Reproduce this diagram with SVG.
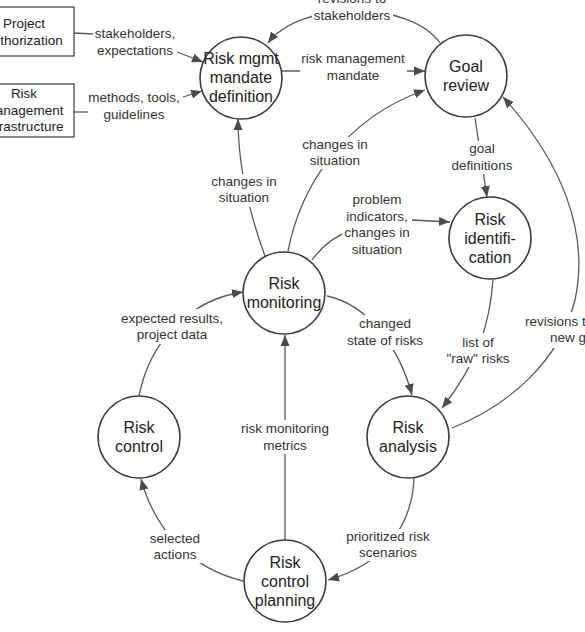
<svg xmlns="http://www.w3.org/2000/svg" width="585" height="632" viewBox="0 0 585 632">
<style>
.bg{fill:#fff}
.node circle{fill:#fff;stroke:#3a3a3a;stroke-width:1.6}
.node rect{fill:#fff;stroke:#3a3a3a;stroke-width:1.2}
.nt{font-family:"Liberation Sans",Arial,sans-serif;font-size:16px;fill:#222;text-anchor:middle}
.bt{font-family:"Liberation Sans",Arial,sans-serif;font-size:13.5px;fill:#222;text-anchor:middle}
.lt{font-family:"Liberation Sans",Arial,sans-serif;font-size:13.5px;fill:#333;text-anchor:middle}
.c path{fill:none;stroke:#5a5a5a;stroke-width:1.3}
.a{marker-end:url(#ah)}
</style>
<defs>
<marker id="ah" markerUnits="userSpaceOnUse" markerWidth="12" markerHeight="10" refX="11" refY="5" orient="auto">
<path d="M0,0.5 L11,5 L0,9.5 z" fill="#4a4a4a"/>
</marker>
</defs>
<rect width="585" height="632" fill="#fff"/>

<g id="connectors" class="c">
<path d="M74,33 L93,34"/>
<path class="a" d="M177,52 L203,62"/>
<path d="M74,112 L88,112"/>
<path class="a" d="M183,97 L202,91"/>
<path class="a" d="M282,71 L425,71"/>
<path class="a" d="M440,43 C410,0 300,0 268,43"/>
<path class="a" d="M265,256 C250,215 238,170 238,119"/>
<path class="a" d="M288,251 C300,190 340,120 425,90"/>
<path class="a" d="M475,118 L487,197"/>
<path class="a" d="M312,260 Q340,220 412,220 L450,222"/>
<path class="a" d="M327,296 C370,305 400,350 412,395"/>
<path class="a" d="M493,280 C490,320 480,360 442,408"/>
<path class="a" d="M452,428 C510,405 560,360 575,300 C590,230 560,160 503,97"/>
<path class="a" d="M139,396 C150,340 190,300 243,292"/>
<path class="a" d="M285,540 L285,335"/>
<path class="a" d="M243,581 C190,568 155,530 141,479"/>
<path class="a" d="M414,478 C412,530 380,565 328,580"/>
</g>

<g id="labels">
<rect class="bg" x="312" y="-10" width="81" height="34"/>
<text class="lt" x="352" y="3">revisions to</text>
<text class="lt" x="352" y="20">stakeholders</text>
<text class="lt" x="135" y="38">stakeholders,</text>
<text class="lt" x="135" y="55">expectations</text>
<text class="lt" x="134" y="102">methods, tools,</text>
<text class="lt" x="134" y="119">guidelines</text>
<rect class="bg" x="300" y="50" width="107" height="34"/>
<text class="lt" x="353" y="63">risk management</text>
<text class="lt" x="353" y="80">mandate</text>
<rect class="bg" x="211" y="174" width="67" height="33"/>
<text class="lt" x="244" y="186">changes in</text>
<text class="lt" x="244" y="202">situation</text>
<rect class="bg" x="301" y="137" width="68" height="32"/>
<text class="lt" x="335" y="149">changes in</text>
<text class="lt" x="335" y="165">situation</text>
<rect class="bg" x="450" y="141" width="64" height="33"/>
<text class="lt" x="482" y="153">goal</text>
<text class="lt" x="482" y="170">definitions</text>
<rect class="bg" x="342" y="192" width="70" height="66"/>
<text class="lt" x="377" y="204">problem</text>
<text class="lt" x="377" y="221">indicators,</text>
<text class="lt" x="377" y="237">changes in</text>
<text class="lt" x="377" y="254">situation</text>
<rect class="bg" x="346" y="315" width="78" height="35"/>
<text class="lt" x="385" y="328">changed</text>
<text class="lt" x="385" y="345">state of risks</text>
<rect class="bg" x="445" y="333" width="66" height="34"/>
<text class="lt" x="478" y="347">list of</text>
<text class="lt" x="478" y="363">"raw" risks</text>
<rect class="bg" x="522" y="312" width="63" height="36"/>
<text class="lt" x="525" y="326" style="text-anchor:start">revisions to</text>
<text class="lt" x="550" y="342" style="text-anchor:start">new goals</text>
<rect class="bg" x="119" y="309" width="106" height="35"/>
<text class="lt" x="172" y="323">expected results,</text>
<text class="lt" x="172" y="339">project data</text>
<rect class="bg" x="239" y="420" width="92" height="34"/>
<text class="lt" x="285" y="433">risk monitoring</text>
<text class="lt" x="285" y="450">metrics</text>
<rect class="bg" x="148" y="530" width="54" height="33"/>
<text class="lt" x="175" y="543">selected</text>
<text class="lt" x="175" y="559">actions</text>
<rect class="bg" x="344" y="529" width="88" height="32"/>
<text class="lt" x="388" y="541">prioritized risk</text>
<text class="lt" x="388" y="557">scenarios</text>
</g>

<g id="project-authorization" class="node">
<rect x="-26" y="7" width="100" height="49"/>
<text class="bt" x="24" y="28">Project</text>
<text class="bt" x="24" y="45">authorization</text>
</g>
<g id="risk-management-infrastructure" class="node">
<rect x="-26" y="84" width="100" height="53"/>
<text class="bt" x="24" y="98">Risk</text>
<text class="bt" x="24" y="114.5">management</text>
<text class="bt" x="24" y="131">infrastructure</text>
</g>
<g id="risk-mandate" class="node">
<circle cx="241" cy="78" r="41"/>
<text class="nt" x="241" y="64">Risk mgmt</text>
<text class="nt" x="241" y="83">mandate</text>
<text class="nt" x="241" y="102">definition</text>
</g>
<g id="goal-review" class="node">
<circle cx="466" cy="76" r="41"/>
<text class="nt" x="466" y="72">Goal</text>
<text class="nt" x="466" y="91">review</text>
</g>
<g id="risk-identification" class="node">
<circle cx="490" cy="238" r="41"/>
<text class="nt" x="490" y="225">Risk</text>
<text class="nt" x="490" y="244">identifi-</text>
<text class="nt" x="490" y="263">cation</text>
</g>
<g id="risk-monitoring" class="node">
<circle cx="284" cy="293" r="41"/>
<text class="nt" x="284" y="289">Risk</text>
<text class="nt" x="284" y="308">monitoring</text>
</g>
<g id="risk-control" class="node">
<circle cx="139" cy="437" r="41"/>
<text class="nt" x="139" y="433">Risk</text>
<text class="nt" x="139" y="452">control</text>
</g>
<g id="risk-analysis" class="node">
<circle cx="408" cy="437" r="41"/>
<text class="nt" x="408" y="433">Risk</text>
<text class="nt" x="408" y="452">analysis</text>
</g>
<g id="risk-control-planning" class="node">
<circle cx="285" cy="581" r="41"/>
<text class="nt" x="285" y="568">Risk</text>
<text class="nt" x="285" y="587">control</text>
<text class="nt" x="285" y="606">planning</text>
</g>
</svg>
